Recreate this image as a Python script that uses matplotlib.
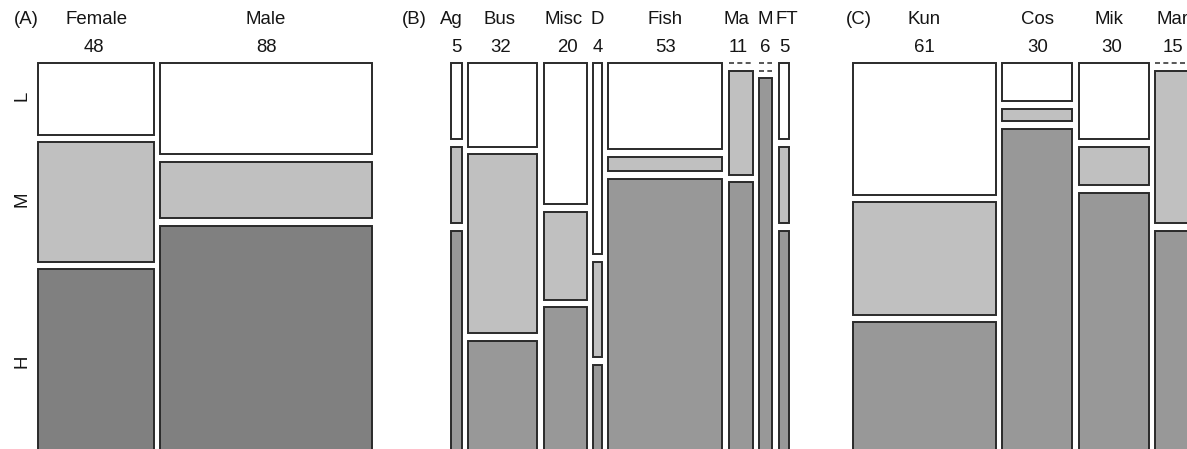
#!/usr/bin/env python3
#
import matplotlib
matplotlib.use('Agg')

import matplotlib.pyplot as plt
from matplotlib.patches import Rectangle
from matplotlib.transforms import blended_transform_factory

plt.rcParams.update({
  'font.family': ['Liberation Sans', 'DejaVu Sans'],
  'font.size': 13.4,
  'text.color': '#151515',
})

LEVELS = ['L', 'M', 'H']

# panel A: sex
sex_names = ['Female', 'Male']
sex_low = [9, 21]
sex_mid = [15, 13]
sex_high = [24, 54]

# panel B: occupation
occ_names = ['Ag', 'Bus', 'Misc', 'D', 'Fish', 'Ma', 'M', 'FT']
occ_low = [1, 7, 7.4, 2, 12, 0, 0, 1]
occ_mid = [1, 15, 4.6, 1, 2, 3, 0, 1]
occ_high = [3, 10, 8, 1, 39, 8, 6, 3]

# panel C: area
area_names = ['Kun', 'Cos', 'Mik', 'Mar']
area_low = [21, 3, 6, 0]
area_mid = [18, 1, 3, 6]
area_high = [22, 26, 21, 9]

FIG_W, FIG_H = 1187, 449
TOP, BOTTOM = 63, 460     # plot region in pixels (bottom is cut off)
GAP_X, GAP_Y = 6.5, 7.5
EDGE = '#2a2a2a'

# small pixel nudges of the header labels (name, count) to avoid crowding
NUDGE = {
  'Ag': (-5, 0), 'Bus': (-3, -2), 'Misc': (-1.5, 2), 'Ma': (-4, -3),
  'FT': (3, 0), 'Mik': (-5, -2.5), 'Female': (0.5, -2),
}


def mosaic(fig, left, width, names, low, mid, high, fills, row_labels=False):
  height = BOTTOM - TOP
  ax = fig.add_axes([left / FIG_W, (FIG_H - BOTTOM) / FIG_H,
                     width / FIG_W, height / FIG_H])
  ax.set_xlim(0, width)
  ax.set_ylim(0, height)
  ax.axis('off')

  cols = list(zip(low, mid, high))
  totals = [sum(c) for c in cols]
  grand = sum(totals)
  avail_x = width - GAP_X * (len(cols) - 1)
  avail_y = height - GAP_Y * (len(LEVELS) - 1)
  lab_tr = blended_transform_factory(ax.transData, fig.transFigure)

  x = 0
  for i, (col, tot) in enumerate(zip(cols, totals)):
    w = avail_x * tot / grand
    y = height
    for j, cnt in enumerate(col):
      h = avail_y * cnt / tot
      if cnt == 0:
        ax.plot([x, x + w], [y, y], color='#3a3a3a', lw=1.2,
                ls=(0, (3, 2)), clip_on=False)
      else:
        ax.add_patch(Rectangle((x, y - h), w, h, facecolor=fills[j],
                               edgecolor=EDGE, lw=1.4, clip_on=False))
        if row_labels and i == 0:
          fig.text(21.7 / FIG_W, 1 - (TOP + (height - (y - h / 2)) - 3) / FIG_H,
                   LEVELS[j], rotation=90, ha='center', va='center')
      y -= h + GAP_Y
    dn, dc = NUDGE.get(names[i], (0, 0))
    xc = x + w / 2
    ax.text(xc + dn, 1 - 20 / FIG_H, names[i], transform=lab_tr,
            ha='center', va='center')
    ax.text(xc + dc, 1 - 47 / FIG_H, f'{tot:g}', transform=lab_tr,
            ha='center', va='center')
    x += w + GAP_X
  return ax


def main():
  fig = plt.figure(figsize=(FIG_W / 100, FIG_H / 100), dpi=100)

  mosaic(fig, 37.7, 334.6, sex_names, sex_low, sex_mid, sex_high,
         ['white', '#c0c0c0', '#808080'], row_labels=True)
  mosaic(fig, 451, 338.3, occ_names, occ_low, occ_mid, occ_high,
         ['white', '#c0c0c0', '#989898'])
  mosaic(fig, 853.3, 337, area_names, area_low, area_mid, area_high,
         ['white', '#c0c0c0', '#989898'])

  for tag, xc in (('(A)', 26), ('(B)', 414), ('(C)', 859)):
    fig.text(xc / FIG_W, 1 - 20 / FIG_H, tag, ha='center', va='center')

  fig.savefig('out.png', dpi=100)
  plt.close(fig)


if __name__ == '__main__':
  main()
